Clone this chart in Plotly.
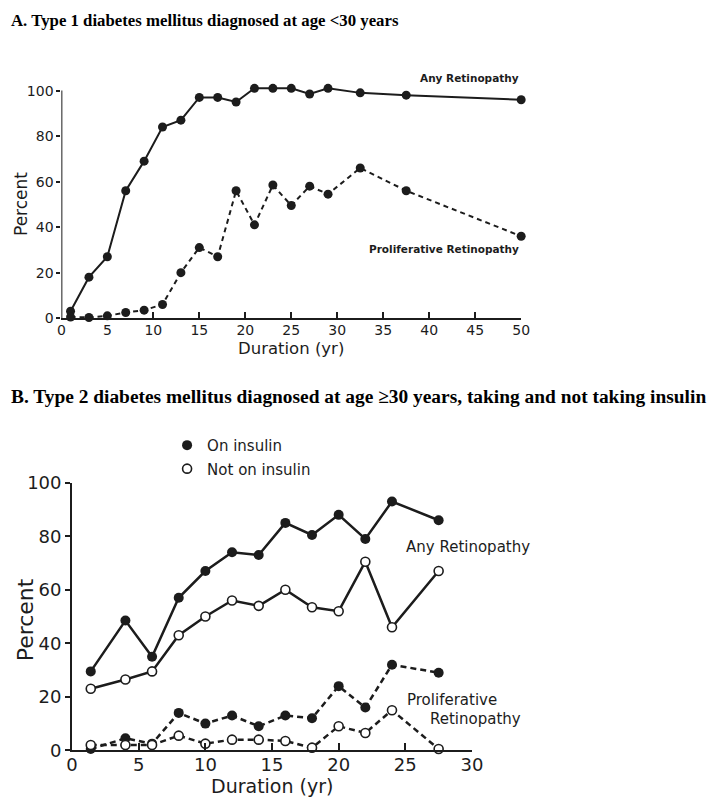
import plotly.graph_objects as go

# ---------------- Panel A: Type 1 diabetes ----------------
a_duration = [1, 3, 5, 7, 9, 11, 13, 15, 17, 19, 21, 23, 25, 27, 29, 32.5, 37.5, 50]
a_any_retinopathy = [3, 18, 27, 56, 69, 84, 87, 97, 97, 95, 101, 101, 101, 98.5, 101, 99, 98, 96]
a_proliferative = [0.5, 0.3, 1, 2.5, 3.5, 6, 20, 31, 27, 56, 41, 58.5, 49.5, 58, 54.5, 66, 56, 36]
a_x_ticks = [0, 5, 10, 15, 20, 25, 30, 35, 40, 45, 50]
a_y_ticks = [0, 20, 40, 60, 80, 100]

# ---------------- Panel B: Type 2 diabetes ----------------
b_duration = [1.4, 4, 6, 8, 10, 12, 14, 16, 18, 20, 22, 24, 27.5]
b_on_any = [29.5, 48.5, 35, 57, 67, 74, 73, 85, 80.5, 88, 79, 93, 86]
b_off_any = [23, 26.5, 29.5, 43, 50, 56, 54, 60, 53.5, 52, 70.5, 46, 67]
b_on_prolif = [0.5, 4.5, 2.5, 14, 10, 13, 9, 13, 12, 24, 16, 32, 29]
b_off_prolif = [2, 2, 2, 5.5, 2.5, 4, 4, 3.5, 1, 9, 6.5, 15, 0.5]
b_x_ticks = [0, 5, 10, 15, 20, 25, 30]
b_y_ticks = [0, 20, 40, 60, 80, 100]

INK = "#1c1c1c"
SANS = "DejaVu Sans"
SERIF = "Liberation Serif"
W, H = 716, 811

fig = go.Figure()

# Panel A traces
fig.add_trace(go.Scatter(
    x=a_duration, y=a_any_retinopathy, mode="lines+markers",
    line=dict(color=INK, width=2),
    marker=dict(color=INK, size=9), cliponaxis=False, showlegend=False,
    xaxis="x", yaxis="y"))
fig.add_trace(go.Scatter(
    x=a_duration, y=a_proliferative, mode="lines+markers",
    line=dict(color=INK, width=2, dash="5px,4px"),
    marker=dict(color=INK, size=9), cliponaxis=False, showlegend=False,
    xaxis="x", yaxis="y"))

# Panel B traces
fig.add_trace(go.Scatter(
    x=b_duration, y=b_on_prolif, mode="lines+markers",
    line=dict(color=INK, width=2.5, dash="6px,4px"),
    marker=dict(color=INK, size=10), cliponaxis=False, showlegend=False,
    xaxis="x2", yaxis="y2"))
fig.add_trace(go.Scatter(
    x=b_duration, y=b_off_prolif, mode="lines+markers",
    line=dict(color=INK, width=2.5, dash="6px,4px"),
    marker=dict(color="white", size=9, line=dict(color=INK, width=1.6)),
    cliponaxis=False, showlegend=False, xaxis="x2", yaxis="y2"))
fig.add_trace(go.Scatter(
    x=b_duration, y=b_on_any, mode="lines+markers",
    line=dict(color=INK, width=2.5),
    marker=dict(color=INK, size=10), cliponaxis=False, showlegend=False,
    xaxis="x2", yaxis="y2"))
fig.add_trace(go.Scatter(
    x=b_duration, y=b_off_any, mode="lines+markers",
    line=dict(color=INK, width=2.5),
    marker=dict(color="white", size=9, line=dict(color=INK, width=1.6)),
    cliponaxis=False, showlegend=False, xaxis="x2", yaxis="y2"))

# Legend entries (marker only)
fig.add_trace(go.Scatter(
    x=[None], y=[None], mode="markers", name="On insulin", legendgroup="on",
    marker=dict(color=INK, size=10), xaxis="x2", yaxis="y2"))
fig.add_trace(go.Scatter(
    x=[None], y=[None], mode="markers", name="Not on insulin", legendgroup="off",
    marker=dict(color="white", size=9, line=dict(color=INK, width=1.6)),
    xaxis="x2", yaxis="y2"))


def px_x(p):
    return p / W


def px_y(p):
    return 1 - p / H


axis_common = dict(showgrid=False, zeroline=False, color=INK, tickcolor=INK)

fig.update_layout(
    width=W, height=H,
    margin=dict(l=0, r=0, t=0, b=0),
    paper_bgcolor="white", plot_bgcolor="white",
    xaxis=dict(
        domain=[px_x(56.7), px_x(527.7)], range=[0, 50], anchor="y",
        tickvals=a_x_ticks, ticktext=[str(v) for v in a_x_ticks],
        ticks="inside", ticklen=6, tickwidth=1.6, ticklabelstandoff=-2,
        showline=True, linewidth=2, linecolor=INK,
        tickfont=dict(family=SANS, size=14, color=INK), **axis_common),
    yaxis=dict(
        domain=[px_y(315.3), px_y(74.7)], range=[0, 103], anchor="x",
        tickvals=a_y_ticks, ticktext=[str(v) for v in a_y_ticks],
        ticks="outside", ticklen=4, tickwidth=1.6, showline=False,
        tickfont=dict(family=SANS, size=14, color=INK), **axis_common),
    xaxis2=dict(
        domain=[px_x(67.7), px_x(477.3)], range=[0, 30], anchor="y2",
        tickvals=b_x_ticks, ticktext=[str(v) for v in b_x_ticks],
        ticks="inside", ticklen=7, tickwidth=2, ticklabelstandoff=-3,
        showline=True, linewidth=2, linecolor=INK,
        tickfont=dict(family=SANS, size=18, color=INK), **axis_common),
    yaxis2=dict(
        domain=[px_y(759), px_y(484.3)], range=[0, 100], anchor="x2",
        tickvals=b_y_ticks, ticktext=[str(v) for v in b_y_ticks],
        ticks="outside", ticklen=5, tickwidth=2,
        showline=True, linewidth=2, linecolor=INK,
        tickfont=dict(family=SANS, size=18, color=INK), **axis_common),
    legend=dict(
        x=px_x(165), y=px_y(429), xanchor="left", yanchor="top",
        font=dict(family=SANS, size=15, color=INK),
        bgcolor="rgba(0,0,0,0)", tracegroupgap=1),
    shapes=[dict(type="line", xref="x", yref="y", x0=0, x1=0, y0=0, y1=100,
                 line=dict(color=INK, width=2))],
)

annotations = [
    # Panel titles
    dict(text="<b>A. Type 1 diabetes mellitus diagnosed at age &lt;30 years</b>",
         xref="paper", yref="paper", x=px_x(3), y=px_y(10),
         xanchor="left", yanchor="middle", showarrow=False,
         font=dict(family=SERIF, size=16.8, color="black")),
    dict(text="<b>B. Type 2 diabetes mellitus diagnosed at age \u226530 years, taking and not taking insulin</b>",
         xref="paper", yref="paper", x=px_x(3), y=px_y(396),
         xanchor="left", yanchor="middle", showarrow=False,
         font=dict(family=SERIF, size=19.4, color="black")),
    # Axis titles panel A
    dict(text="Percent", xref="paper", yref="paper", x=px_x(16), y=px_y(198.5),
         textangle=-90, xanchor="center", yanchor="middle", showarrow=False,
         font=dict(family=SANS, size=17, color=INK)),
    dict(text="Duration (yr)", xref="paper", yref="paper", x=px_x(292), y=px_y(346),
         xanchor="center", yanchor="middle", showarrow=False,
         font=dict(family=SANS, size=16.5, color=INK)),
    # Axis titles panel B
    dict(text="Percent", xref="paper", yref="paper", x=px_x(20), y=px_y(625),
         textangle=-90, xanchor="center", yanchor="middle", showarrow=False,
         font=dict(family=SANS, size=22, color=INK)),
    dict(text="Duration (yr)", xref="paper", yref="paper", x=px_x(272), y=px_y(796),
         xanchor="center", yanchor="middle", showarrow=False,
         font=dict(family=SANS, size=19, color=INK)),
    # Series labels panel A
    dict(text="<b>Any Retinopathy</b>", xref="paper", yref="paper",
         x=px_x(527.7), y=px_y(69),
         xanchor="right", yanchor="middle", showarrow=False,
         font=dict(family=SANS, size=10.5, color=INK)),
    dict(text="<b>Proliferative Retinopathy</b>", xref="paper", yref="paper",
         x=px_x(527.7), y=px_y(244),
         xanchor="right", yanchor="middle", showarrow=False,
         font=dict(family=SANS, size=10.5, color=INK)),
    # Series labels panel B
    dict(text="Any Retinopathy", xref="x2", yref="y2", x=24.9, y=76.1,
         xanchor="left", yanchor="middle", showarrow=False,
         font=dict(family=SANS, size=15, color=INK)),
    dict(text="Proliferative", xref="x2", yref="y2", x=24.95, y=19.0,
         xanchor="left", yanchor="middle", showarrow=False,
         font=dict(family=SANS, size=15, color=INK)),
    dict(text="Retinopathy", xref="x2", yref="y2", x=26.7, y=11.8,
         xanchor="left", yanchor="middle", showarrow=False,
         font=dict(family=SANS, size=15, color=INK)),
]
fig.update_layout(annotations=annotations)

fig.write_html(
    "out.html",
    config={"displayModeBar": False},
    post_script="document.body.style.margin='0';document.body.style.padding='0';",
)
